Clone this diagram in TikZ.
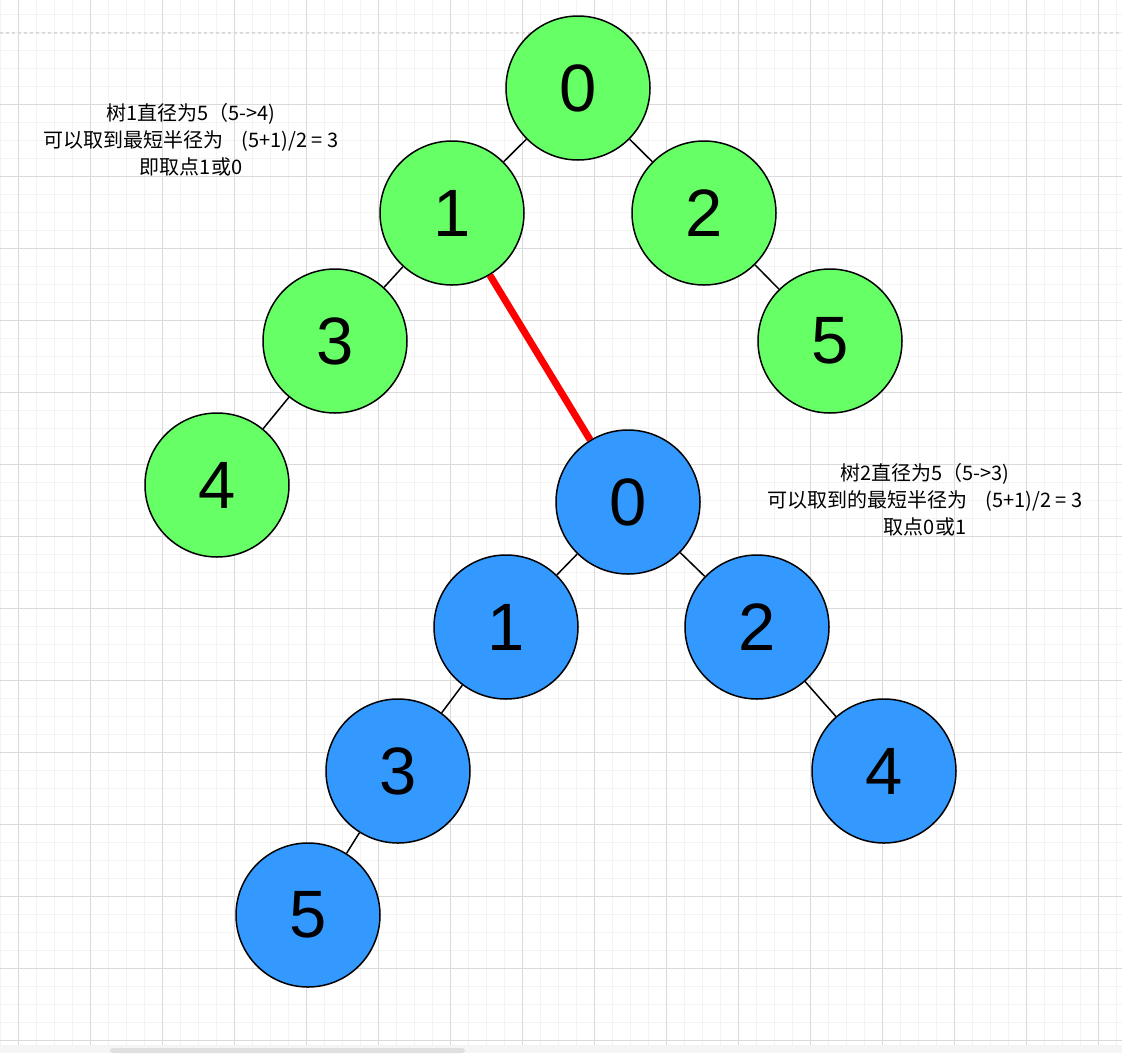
\documentclass[tikz,border=0pt]{standalone}
\usepackage{fontspec}
\setmainfont{Liberation Sans}
\newfontfamily\cjk{Noto Sans CJK SC}
\usepackage{tikz}
\usetikzlibrary{positioning}

\definecolor{treegreen}{HTML}{66FF66}
\definecolor{treeblue}{HTML}{3399FF}
\definecolor{gridminor}{HTML}{F3F3F3}
\definecolor{gridmajor}{HTML}{DADADA}

\begin{document}
\begin{tikzpicture}[
    x=1pt, y=-1pt,
    vertex/.style={
        circle,
        draw,
        line width=1.5pt,
        minimum size=144pt,
        inner sep=0pt,
        font=\fontsize{67}{80}\selectfont
    },
    greennode/.style={vertex, fill=treegreen},
    bluenode/.style={vertex, fill=treeblue},
    edge/.style={line width=1.5pt},
    bridge/.style={line width=7pt, red},
    note/.style={align=center, font=\cjk\fontsize{20}{27}\selectfont}
]
\useasboundingbox (0,0) rectangle (1122,1053);
\fill[white] (0,0) rectangle (1122,1053);

% grid
\foreach \x in {0,18,...,1122}
    \draw[gridminor, line width=1pt] (\x,0) -- (\x,1045);
\foreach \y in {14,32,...,1045}
    \draw[gridminor, line width=1pt] (0,\y) -- (1122,\y);
\foreach \x in {18,90,...,1122}
    \draw[gridmajor, line width=1pt] (\x,0) -- (\x,1045);
\foreach \y in {104,176,...,1045}
    \draw[gridmajor, line width=1pt] (0,\y) -- (1122,\y);
\draw[gridmajor, line width=1.5pt, dashed] (0,33) -- (1122,33);
\fill[gray!8] (0,1045) rectangle (1122,1053);
\fill[gray!25, rounded corners=3pt] (110,1048) rectangle (465,1053);

% tree 1
\node[greennode] (g0) at (578,88) {0};
\node[greennode] (g1) at (452,213) {1};
\node[greennode] (g2) at (704,213) {2};
\node[greennode] (g3) at (335,341) {3};
\node[greennode] (g5) at (830,341) {5};
\node[greennode] (g4) at (217,485) {4};

% tree 2
\node[bluenode] (b0) at (628,502) {0};
\node[bluenode] (b1) at (506,627) {1};
\node[bluenode] (b2) at (757,627) {2};
\node[bluenode] (b3) at (398,771) {3};
\node[bluenode] (b4) at (884,771) {4};
\node[bluenode] (b5) at (308,915) {5};

\draw[edge] (g0) -- (g1);
\draw[edge] (g0) -- (g2);
\draw[edge] (g1) -- (g3);
\draw[edge] (g3) -- (g4);
\draw[edge] (g2) -- (g5);

\draw[edge] (b0) -- (b1);
\draw[edge] (b0) -- (b2);
\draw[edge] (b1) -- (b3);
\draw[edge] (b3) -- (b5);
\draw[edge] (b2) -- (b4);

\draw[bridge] (g1) -- (b0);

% notes
\node[note] (note1) at (191,140) {树1直径为5（5->4)\\可以取到最短半径为\hspace{0.9em}(5+1)/2 = 3\\即取点1或0};
\node[note] (note2) at (925,500) {树2直径为5（5->3)\\可以取到的最短半径为\hspace{0.9em}(5+1)/2 = 3\\取点0或1};
\end{tikzpicture}
\end{document}
